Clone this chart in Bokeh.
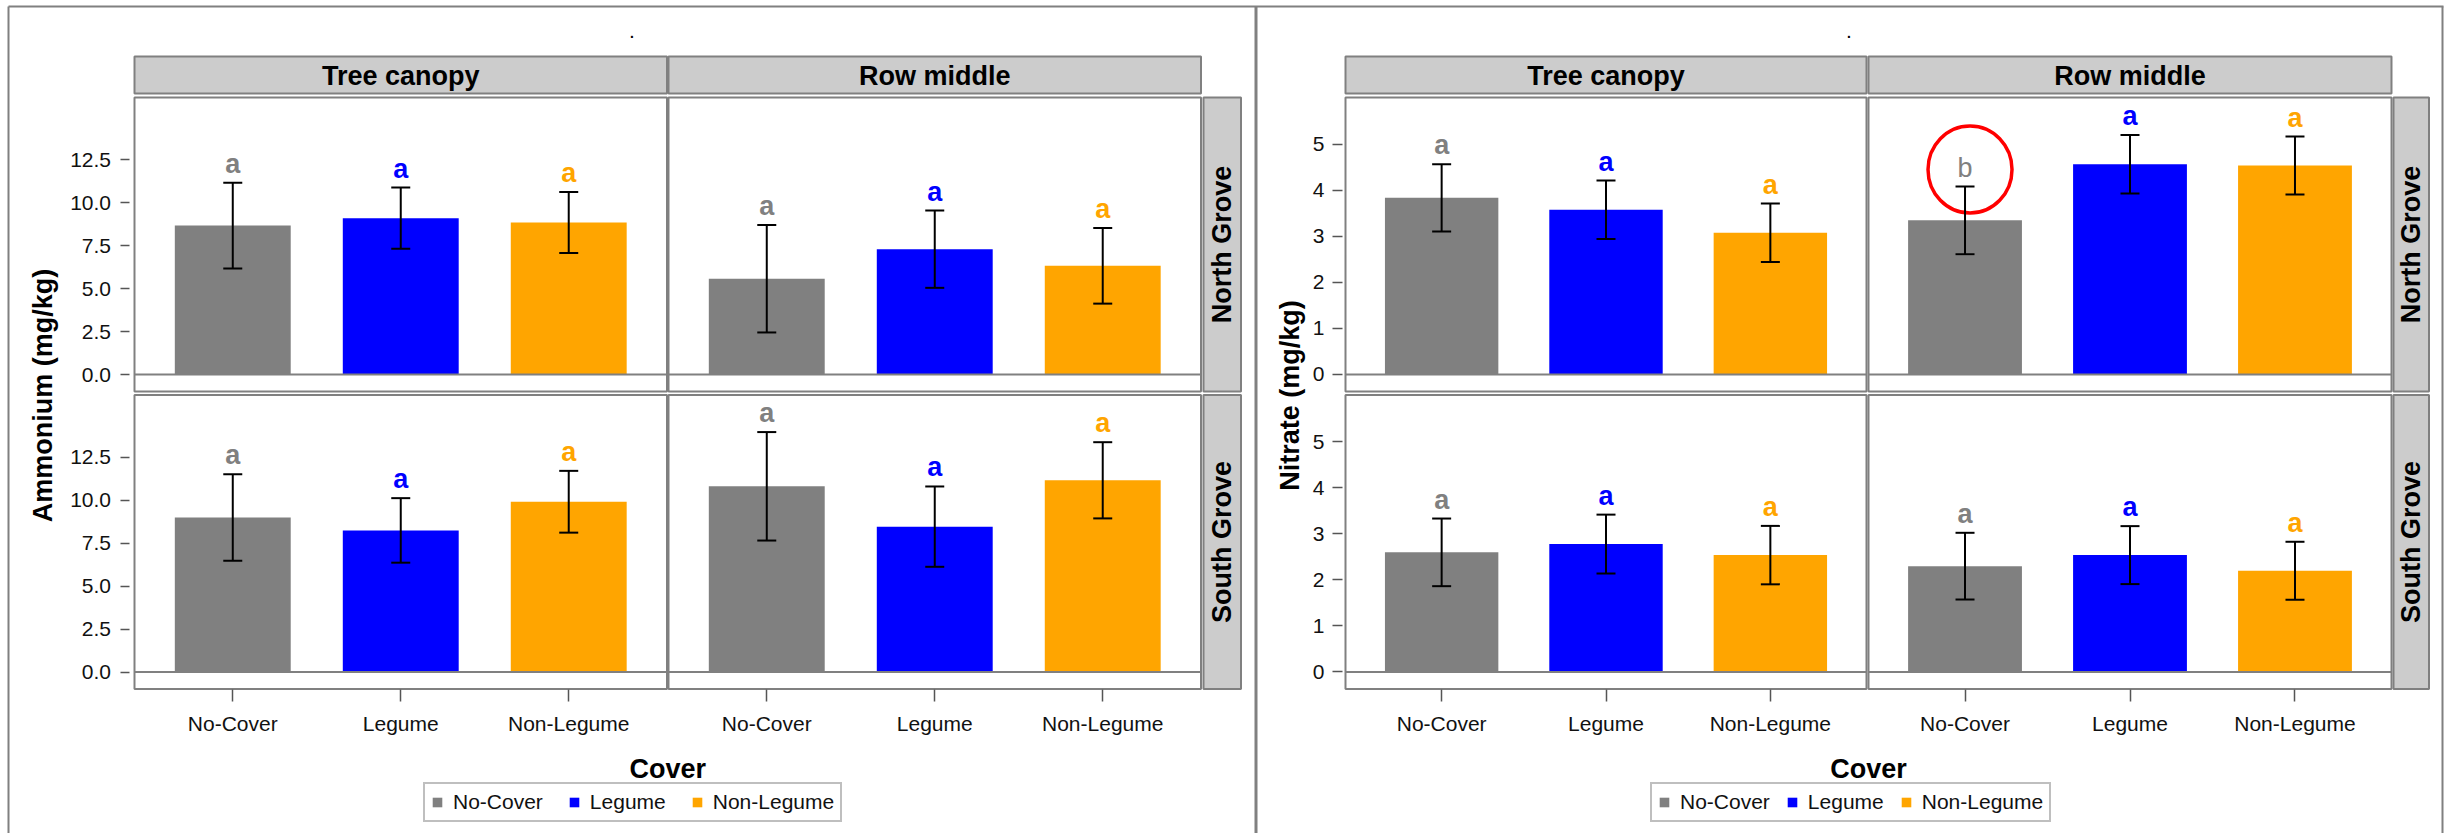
import math
from bokeh.plotting import figure
from bokeh.models import (Range1d, LinearAxis, FixedTicker, PrintfTickFormatter, Whisker,
                          TeeHead, ColumnDataSource, Legend, LegendItem)
from bokeh.core.properties import value, field
from bokeh.embed import file_html
from bokeh.resources import INLINE

# ---------------- data ----------------
covers = ["No-Cover", "Legume", "Non-Legume"]
cover_colors = ["#808080", "#0000FF", "#FFA500"]
locations = ["Tree canopy", "Row middle"]
groves = ["North Grove", "South Grove"]

amm_ticks = [0, 2.5, 5, 7.5, 10, 12.5]
nit_ticks = [0, 1, 2, 3, 4, 5]

amm_north_tree_mean = [8.68, 9.11, 8.86]
amm_north_tree_se = [2.50, 1.78, 1.78]
amm_north_row_mean = [5.58, 7.30, 6.33]
amm_north_row_se = [3.13, 2.25, 2.20]
amm_south_tree_mean = [9.00, 8.25, 9.92]
amm_south_tree_se = [2.52, 1.88, 1.80]
amm_south_row_mean = [10.82, 8.47, 11.17]
amm_south_row_se = [3.16, 2.34, 2.22]
amm_north_tree_letters = ["a", "a", "a"]
amm_north_row_letters = ["a", "a", "a"]
amm_south_tree_letters = ["a", "a", "a"]
amm_south_row_letters = ["a", "a", "a"]

nit_north_tree_mean = [3.84, 3.58, 3.08]
nit_north_tree_se = [0.73, 0.635, 0.635]
nit_north_row_mean = [3.35, 4.57, 4.54]
nit_north_row_se = [0.735, 0.635, 0.63]
nit_south_tree_mean = [2.60, 2.78, 2.54]
nit_south_tree_se = [0.735, 0.64, 0.635]
nit_south_row_mean = [2.30, 2.54, 2.20]
nit_south_row_se = [0.725, 0.63, 0.63]
nit_north_tree_letters = ["a", "a", "a"]
nit_north_row_letters = ["b", "a", "a"]
nit_south_tree_letters = ["a", "a", "a"]
nit_south_row_letters = ["a", "a", "a"]

# ---------------- layout / style ----------------
W, H = 2444, 833
GRID = "#808080"
STRIP = "#CCCCCC"
FONT = "Liberation Sans"
ROWS_PX = [(97.0, 391.0), (394.5, 688.5)]
HEAD_PX = (56.0, 93.0)
MARGIN = 0.585
BAR_W = 0.69
LETTER_LIFT = 19.0
positions = list(range(1, len(covers) + 1))
X_LO, X_HI = positions[0] - MARGIN, positions[-1] + MARGIN

charts = [
    dict(key="amm", center=631.5, ylabel="Ammonium (mg/kg)", ylabel_x=42,
         cols=[(134.0, 666.5), (668.0, 1200.5)], strip=(1203.0, 1240.5),
         y_lo=-0.99, y_hi=16.14, ticks=amm_ticks, fmt="%.1f",
         tick_gap=5.5, tick_len=9, standoff=9, legend_x=423, legend_spacing=25,
         means=[[amm_north_tree_mean, amm_north_row_mean], [amm_south_tree_mean, amm_south_row_mean]],
         ses=[[amm_north_tree_se, amm_north_row_se], [amm_south_tree_se, amm_south_row_se]],
         letters=[[amm_north_tree_letters, amm_north_row_letters],
                  [amm_south_tree_letters, amm_south_row_letters]]),
    dict(key="nit", center=1848.5, ylabel="Nitrate (mg/kg)", ylabel_x=1289,
         cols=[(1345.0, 1866.0), (1868.0, 2391.0)], strip=(2393.0, 2428.5),
         y_lo=-0.37, y_hi=6.02, ticks=nit_ticks, fmt="%d",
         tick_gap=3, tick_len=10, standoff=8, legend_x=1650, legend_spacing=16,
         means=[[nit_north_tree_mean, nit_north_row_mean], [nit_south_tree_mean, nit_south_row_mean]],
         ses=[[nit_north_tree_se, nit_north_row_se], [nit_south_tree_se, nit_south_row_se]],
         letters=[[nit_north_tree_letters, nit_north_row_letters],
                  [nit_south_tree_letters, nit_south_row_letters]]),
]


def x_range_for(px_lo, px_hi, d_lo, d_hi):
    k = (d_hi - d_lo) / (px_hi - px_lo)
    return Range1d(d_lo - px_lo * k, d_hi + (W - px_hi) * k), k


def y_range_for(px_top, px_bot, d_lo, d_hi):
    k = (d_hi - d_lo) / (px_bot - px_top)
    return Range1d(d_lo - (H - px_bot) * k, d_hi + px_top * k), k


p = figure(width=W, height=H, x_range=Range1d(0, W), y_range=Range1d(H, 0),
           output_backend="svg", toolbar_location=None, tools="",
           x_axis_type=None, y_axis_type=None, min_border=0, title=None)
p.outline_line_color = None
p.background_fill_color = "white"
p.border_fill_color = "white"

for ch in charts:
    key = ch["key"]
    xnames, kxs = [], []
    for ci, (plo, phi) in enumerate(ch["cols"]):
        rng, kx = x_range_for(plo, phi, X_LO, X_HI)
        name = f"{key}_x{ci}"
        p.extra_x_ranges[name] = rng
        xnames.append(name)
        kxs.append(kx)
    ynames, kys = [], []
    for ri, (ptop, pbot) in enumerate(ROWS_PX):
        rng, ky = y_range_for(ptop, pbot, ch["y_lo"], ch["y_hi"])
        name = f"{key}_y{ri}"
        p.extra_y_ranges[name] = rng
        ynames.append(name)
        kys.append(ky)

    legend_renderer = None
    for ri, (ptop, pbot) in enumerate(ROWS_PX):
        for ci, (plo, phi) in enumerate(ch["cols"]):
            xn, yn = xnames[ci], ynames[ri]
            # panel frame
            p.quad(left=[plo], right=[phi], top=[ptop], bottom=[pbot],
                   fill_color="white", line_color=GRID, line_width=2)
            mean = ch["means"][ri][ci]
            se = ch["ses"][ri][ci]
            letters = ch["letters"][ri][ci]
            upper = [m + s for m, s in zip(mean, se)]
            src = ColumnDataSource(dict(
                x=positions, mean=mean, upper=upper,
                lower=[m - s for m, s in zip(mean, se)],
                label_y=[u + LETTER_LIFT * kys[ri] for u in upper],
                color=cover_colors, letter=letters,
                fstyle=["bold" if l == "a" else "normal" for l in letters]))
            r = p.vbar(x="x", top="mean", bottom=0, width=BAR_W, source=src,
                       fill_color=field("color"), line_color=None,
                       x_range_name=xn, y_range_name=yn)
            if ri == 0 and ci == 0:
                legend_renderer = r
            p.segment(x0=[X_LO], x1=[X_HI], y0=[0], y1=[0], line_color=GRID, line_width=2,
                      x_range_name=xn, y_range_name=yn)
            wh = Whisker(source=src, base="x", upper="upper", lower="lower", dimension="height",
                         line_color="black", line_width=2, level="annotation",
                         upper_head=TeeHead(size=19, line_color="black", line_width=2),
                         lower_head=TeeHead(size=19, line_color="black", line_width=2),
                         x_range_name=xn, y_range_name=yn)
            p.add_layout(wh)
            p.text(x="x", y="label_y", text="letter", source=src, x_range_name=xn, y_range_name=yn,
                   text_align="center", text_baseline="middle",
                   text_font=value(FONT), text_font_size="27px",
                   text_font_style=field("fstyle"), text_color=field("color"))
            # highlight of the differing letter
            for i, l in enumerate(letters):
                if l != "a":
                    p.ellipse(x=[positions[i] + 5 * kxs[ci]], y=[upper[i] + 17 * kys[ri]],
                              width=84, height=87, width_units="screen", height_units="screen",
                              fill_color=None, line_color="#FF0000", line_width=3.5,
                              x_range_name=xn, y_range_name=yn)

        # row strip
        s_lo, s_hi = ch["strip"]
        p.quad(left=[s_lo], right=[s_hi], top=[ptop], bottom=[pbot],
               fill_color=STRIP, line_color=GRID, line_width=2)
        p.text(x=[(s_lo + s_hi) / 2], y=[(ptop + pbot) / 2], text=[groves[ri]], angle=math.pi / 2,
               text_align="center", text_baseline="middle", text_font=value(FONT),
               text_font_size="27px", text_font_style="bold", text_color="black")

    # column strips
    for ci, (plo, phi) in enumerate(ch["cols"]):
        p.quad(left=[plo], right=[phi], top=[HEAD_PX[0]], bottom=[HEAD_PX[1]],
               fill_color=STRIP, line_color=GRID, line_width=2)
        p.text(x=[(plo + phi) / 2], y=[(HEAD_PX[0] + HEAD_PX[1]) / 2 + 1], text=[locations[ci]],
               text_align="center", text_baseline="middle", text_font=value(FONT),
               text_font_size="27px", text_font_style="bold", text_color="black")

    # y axes (one per row, left of first column)
    for ri in range(len(ROWS_PX)):
        ax = LinearAxis(x_range_name=xnames[0], y_range_name=ynames[ri],
                        fixed_location=X_LO - ch["tick_gap"] * kxs[0],
                        ticker=FixedTicker(ticks=ch["ticks"], minor_ticks=[]),
                        formatter=PrintfTickFormatter(format=ch["fmt"]),
                        axis_line_color=None, major_tick_in=0, major_tick_out=ch["tick_len"],
                        minor_tick_in=0, minor_tick_out=0,
                        major_tick_line_color="#555555", major_tick_line_width=1.5,
                        major_label_standoff=ch["standoff"], major_label_text_font=FONT,
                        major_label_text_font_size="21px", major_label_text_color="#111111")
        p.add_layout(ax, "left")
    # x axes (one per column, below last row)
    for ci in range(len(ch["cols"])):
        xa = LinearAxis(x_range_name=xnames[ci], y_range_name=ynames[-1],
                        fixed_location=ch["y_lo"],
                        ticker=FixedTicker(ticks=positions, minor_ticks=[]),
                        major_label_overrides={pos: c for pos, c in zip(positions, covers)},
                        axis_line_color=None, major_tick_in=0, major_tick_out=12,
                        minor_tick_in=0, minor_tick_out=0,
                        major_tick_line_color="#555555", major_tick_line_width=1.5,
                        major_label_standoff=11, major_label_text_font=FONT,
                        major_label_text_font_size="21px", major_label_text_color="#111111")
        p.add_layout(xa, "below")

    # titles
    p.text(x=[ch["ylabel_x"]], y=[395], text=[ch["ylabel"]], angle=math.pi / 2,
           text_align="center", text_baseline="middle", text_font=value(FONT),
           text_font_size="27px", text_font_style="bold", text_color="black")
    p.text(x=[(ch["cols"][0][0] + ch["cols"][-1][1]) / 2], y=[768], text=["Cover"],
           text_align="center", text_baseline="middle", text_font=value(FONT),
           text_font_size="27px", text_font_style="bold", text_color="black")
    p.text(x=[ch["center"]], y=[30], text=["."], text_align="center", text_baseline="middle",
           text_font=value(FONT), text_font_size="21px", text_color="black")

    legend = Legend(items=[LegendItem(label=value(c), renderers=[legend_renderer], index=i)
                           for i, c in enumerate(covers)],
                    orientation="horizontal", location=(ch["legend_x"], 11),
                    glyph_width=12, glyph_height=12, label_standoff=10,
                    spacing=ch["legend_spacing"], padding=6, margin=0,
                    label_text_font=FONT, label_text_font_size="21px",
                    label_text_color="#111111", border_line_color=GRID, border_line_width=2,
                    background_fill_color="white", background_fill_alpha=1.0)
    p.add_layout(legend)

# outer frame lines
p.segment(x0=[8, 8, 1255.5, 2442], y0=[6, 6, 6, 6], x1=[2443, 8, 1255.5, 2442], y1=[6, H, H, H],
          line_color=GRID, line_width=[2, 2, 3, 2])

open("out.html", "w").write(file_html(p, INLINE))
